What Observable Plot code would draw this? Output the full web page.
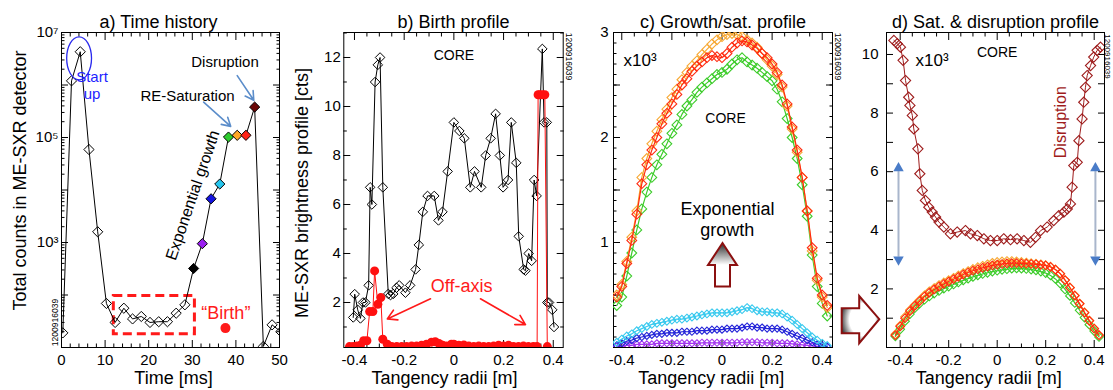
<!DOCTYPE html>
<html><head><meta charset="utf-8">
<script src="https://cdn.jsdelivr.net/npm/d3@7"></script>
<script src="https://cdn.jsdelivr.net/npm/@observablehq/plot@0.6"></script>
<style>
body{margin:0;background:#fff;}
#chart{position:relative;width:1113px;height:390px;overflow:hidden;background:#fff;}
#chart svg{position:absolute;top:0;}
</style></head><body><div id="chart"></div>
<script>
// ================= DATA =================
// Panel a: time history of total counts
const timeMs = [0.3,2.3,4.3,6.3,8.3,10.3,12.3,14.3,16.3,18.3,20.3,22.3,24.3,26.3,28.3,30.3,32.3,34.3,36.3,38.3,40.3,42.3,44.3,46.3,48.3,50.3];
const totalCounts = [19,1.2e6,4.3e6,5.9e4,1.6e3,69,30,56,35,39,30,31,31,45,65,320,950,6800,1.3e4,1.02e5,1.1e5,1.1e5,3.8e5,10.5,27,20];
const frameTag = [null,null,null,null,null,null,null,null,null,null,null,null,null,null,null,"black","purple","blue","cyan","green","orange","red","darkred",null,null,null];
const aTicksMajor = [1e1,1e2,1e3,1e4,1e5,1e6,1e7];
const aTickLabels = {1000:"10\u00b3",100000:"10\u2075",10000000:"10\u2077"};
const timeTicks = [0,10,20,30,40,50];
const birthBox = {t0:12.0, t1:30.6, c0:17.8, c1:95.5};
const birthDot = {t:37.6, c:23.4};
const startupEllipse = {t0:1.3, t1:7.0, c0:1.23e6, c1:8.1e6};
const aTexts = [
  {t:7.0, c:1.41e6, s:"Start", k:"blue"},
  {t:7.0, c:6.55e5, s:"up", k:"blue"},
  {t:37.5, c:2.72e6, s:"Disruption", k:"black"},
  {t:28.9, c:6.2e5, s:"RE-Saturation", k:"black"}
];
const aArrows = [
  {x1:40.3, y1:1.51e6, x2:44.1, y2:5.13e5},
  {x1:32.6, y1:4.73e5, x2:38.8, y2:1.63e5}
];
const expoLabel = {t:30.1, c:7.94e3, s:"Exponential growth"};
const birthLabel = {t:37.7, c:45.7, s:"\u201cBirth\u201d"};

// Panel b: birth profile
const bX = [-0.405,-0.399,-0.387,-0.376,-0.366,-0.356,-0.343,-0.337,-0.330,-0.317,-0.306,-0.297,-0.286,-0.264,-0.255,-0.244,-0.231,-0.220,-0.195,-0.176,-0.154,-0.141,-0.125,-0.106,-0.079,-0.062,-0.046,-0.025,0.000,0.022,0.042,0.066,0.083,0.110,0.128,0.148,0.168,0.185,0.198,0.218,0.231,0.251,0.261,0.281,0.288,0.301,0.313,0.323,0.333,0.356,0.363,0.374,0.376,0.383,0.396,0.403];
const bY = [1.39,2.34,1.70,1.35,2.00,2.00,2.70,6.70,6.00,11.00,11.70,12.00,6.70,2.35,2.30,2.35,2.60,2.70,2.40,2.70,3.35,4.35,5.70,6.35,6.35,5.35,5.70,7.35,9.35,9.00,8.70,6.70,7.35,6.70,8.00,8.70,9.70,8.00,6.70,7.00,9.35,7.70,4.70,3.35,3.30,4.00,3.70,7.00,6.35,12.35,9.35,9.35,2.00,2.00,1.70,1.00];
const rX = [-0.420,-0.405,-0.390,-0.376,-0.363,-0.350,-0.339,-0.326,-0.319,-0.306,-0.294,-0.286,-0.268,-0.250,-0.230,-0.210,-0.190,-0.170,-0.150,-0.130,-0.110,-0.090,-0.075,-0.060,-0.045,-0.030,-0.010,0.000,0.020,0.040,0.060,0.080,0.100,0.120,0.140,0.160,0.180,0.200,0.220,0.240,0.260,0.280,0.300,0.320,0.335,0.339,0.345,0.356,0.366,0.376];
const rY = [0.20,0.20,0.22,0.25,0.44,0.44,1.63,1.63,3.29,1.93,2.20,0.50,0.30,0.20,0.20,0.20,0.20,0.22,0.22,0.25,0.30,0.38,0.40,0.33,0.25,0.22,0.30,0.30,0.25,0.27,0.22,0.20,0.22,0.20,0.20,0.22,0.25,0.22,0.25,0.20,0.20,0.22,0.20,0.20,0.20,10.48,10.48,10.48,10.48,0.20];
const bArrows = [
  {x1:-0.094, y1:2.15, x2:-0.268, y2:1.33},
  {x1:0.107, y1:2.15, x2:0.288, y2:1.10}
];
const radiusTicks = [-0.4,-0.2,0,0.2,0.4];

// Panels c & d: profiles (units of 10^3 counts) on tangency radii channels
const R = [-0.42,-0.40,-0.38,-0.36,-0.34,-0.32,-0.30,-0.28,-0.26,-0.24,-0.22,-0.20,-0.18,-0.16,-0.14,-0.12,-0.10,-0.08,-0.06,-0.04,-0.02,0.00,0.02,0.04,0.06,0.08,0.10,0.12,0.14,0.16,0.18,0.20,0.22,0.24,0.26,0.28,0.30,0.32,0.34,0.36,0.38,0.40,0.42];
const cPurple = [0.01,0.01,0.02,0.02,0.03,0.03,0.03,0.03,0.04,0.04,0.04,0.04,0.04,0.04,0.04,0.04,0.04,0.045,0.045,0.045,0.045,0.045,0.045,0.045,0.045,0.05,0.05,0.05,0.05,0.045,0.045,0.045,0.04,0.04,0.04,0.035,0.03,0.025,0.02,0.015,0.01,0.01,0.005];
const cBlue = [0.02,0.04,0.06,0.07,0.09,0.10,0.11,0.12,0.13,0.13,0.14,0.14,0.14,0.15,0.15,0.15,0.16,0.16,0.16,0.17,0.17,0.17,0.18,0.18,0.18,0.19,0.20,0.20,0.19,0.19,0.18,0.18,0.18,0.17,0.15,0.13,0.11,0.09,0.07,0.05,0.03,0.02,0.01];
const cCyan = [0.05,0.08,0.11,0.13,0.16,0.18,0.20,0.22,0.23,0.24,0.25,0.26,0.27,0.27,0.28,0.29,0.30,0.31,0.32,0.33,0.33,0.33,0.33,0.34,0.35,0.36,0.38,0.37,0.35,0.34,0.34,0.33,0.33,0.32,0.29,0.26,0.22,0.18,0.14,0.10,0.07,0.04,0.02];
const cGreen = [0.40,0.48,0.68,0.90,1.12,1.32,1.48,1.62,1.74,1.84,1.94,2.04,2.12,2.22,2.30,2.36,2.43,2.48,2.52,2.56,2.60,2.62,2.65,2.70,2.74,2.76,2.72,2.69,2.66,2.62,2.58,2.54,2.46,2.34,2.18,2.00,1.80,1.55,1.25,0.88,0.58,0.42,0.30];
const cOrange = [0.50,0.60,0.82,1.05,1.30,1.62,1.80,1.94,2.06,2.17,2.27,2.38,2.46,2.55,2.62,2.68,2.73,2.79,2.84,2.89,2.93,2.96,2.98,2.99,2.98,2.96,2.93,2.90,2.86,2.80,2.74,2.68,2.60,2.48,2.30,2.08,1.86,1.62,1.30,0.92,0.64,0.48,0.38];
const cRed = [0.48,0.58,0.80,1.02,1.27,1.56,1.74,1.88,2.00,2.13,2.23,2.32,2.41,2.50,2.56,2.63,2.68,2.72,2.76,2.78,2.77,2.76,2.80,2.86,2.90,2.92,2.91,2.88,2.85,2.80,2.76,2.70,2.62,2.50,2.32,2.10,1.88,1.62,1.30,0.95,0.66,0.50,0.40];
const upArrow = {x:[0.004,0.062,0.034,0.034,-0.026,-0.026,-0.054], y:[0.99,0.78,0.78,0.575,0.575,0.78,0.78]};
const cTexts = [
  {x:0.014, y:2.18, s:"CORE", size:14},
  {x:0.022, y:1.32, s:"Exponential", size:18},
  {x:0.021, y:1.12, s:"growth", size:18}
];

const dOrange = [0.45,0.75,1.05,1.28,1.45,1.62,1.78,1.92,2.03,2.13,2.22,2.30,2.38,2.46,2.54,2.61,2.68,2.74,2.79,2.84,2.89,2.92,2.94,2.95,2.95,2.94,2.92,2.90,2.88,2.86,2.84,2.81,2.76,2.66,2.52,2.30,2.05,1.78,1.50,1.20,0.92,0.65,0.42];
const dRed = [0.42,0.72,1.00,1.24,1.42,1.58,1.74,1.87,1.98,2.08,2.17,2.25,2.33,2.41,2.49,2.56,2.62,2.67,2.72,2.76,2.80,2.83,2.85,2.87,2.88,2.88,2.87,2.86,2.85,2.84,2.82,2.80,2.75,2.66,2.52,2.30,2.04,1.77,1.49,1.19,0.91,0.64,0.42];
const dGreen = [0.38,0.62,0.90,1.14,1.34,1.50,1.63,1.74,1.84,1.93,2.01,2.08,2.15,2.22,2.29,2.35,2.41,2.46,2.51,2.55,2.59,2.62,2.65,2.67,2.69,2.70,2.69,2.68,2.66,2.63,2.59,2.54,2.46,2.34,2.18,1.98,1.76,1.52,1.27,1.02,0.78,0.56,0.36];
const dX = [-0.426,-0.412,-0.399,-0.388,-0.378,-0.365,-0.360,-0.350,-0.344,-0.327,-0.319,-0.309,-0.296,-0.282,-0.268,-0.254,-0.240,-0.220,-0.193,-0.165,-0.131,-0.110,-0.082,-0.055,-0.028,0.000,0.027,0.055,0.082,0.110,0.137,0.158,0.179,0.206,0.233,0.254,0.275,0.289,0.302,0.309,0.316,0.330,0.337,0.350,0.357,0.364,0.371,0.385,0.398,0.412,0.426];
const dY = [10.48,10.37,10.25,9.80,9.11,8.54,8.26,7.92,7.46,6.78,5.93,5.36,5.02,4.79,4.62,4.45,4.28,4.11,3.88,3.94,3.99,3.88,3.82,3.71,3.65,3.65,3.71,3.68,3.71,3.65,3.59,3.76,3.99,4.11,4.33,4.50,4.62,4.73,4.90,5.47,6.21,6.32,7.06,7.80,8.37,8.88,9.28,9.62,9.91,10.14,10.25];
const dArrowX = [-0.407, 0.405];
const dArrowTop = 6.32, dArrowBottom = 2.80;
const rightArrow = {x:[-0.639,-0.567,-0.567,-0.484,-0.567,-0.567,-0.639], y:[1.32,1.32,1.74,0.95,0.13,0.47,0.47]};
const shotId = "1200916039";

// ================= STYLE =================
const FONT = '"Liberation Sans", Arial, Helvetica, sans-serif';
const palette = {black:"#000000", purple:"#9b1ff0", blue:"#1414e0", cyan:"#26c6ee", green:"#2ecc2e", orange:"#ffa726", red:"#ff2418", darkred:"#6b0808"};
const profColor = {purple:"#a335f0", blue:"#2424d8", cyan:"#37c9ee", green:"#3ccc2a", orange:"#f7a833", red:"#ff2a10", darkred:"#9e1c1c"};
const blank = () => "";
const fmtR = d => d === 0 ? "0" : (d < 0 ? "-" : "") + Math.abs(d).toFixed(1);
const minorR = [-0.35,-0.3,-0.25,-0.15,-0.1,-0.05,0.05,0.1,0.15,0.25,0.3,0.35];

function boxAxes({xMajor, xMinor, yMajor, yMinor, xFmt, yFmt, xGap = 7, yGap = 3, M = 7, m = 3.5}) {
  return [
    Plot.axisX({ticks: xMajor, anchor: "bottom", tickSize: -M, tickPadding: M + xGap, tickFormat: xFmt, label: null, fontSize: 15}),
    Plot.axisX({ticks: xMajor, anchor: "top", tickSize: -M, tickFormat: blank, label: null}),
    Plot.axisX({ticks: xMinor, anchor: "bottom", tickSize: -m, tickFormat: blank, label: null}),
    Plot.axisX({ticks: xMinor, anchor: "top", tickSize: -m, tickFormat: blank, label: null}),
    Plot.axisY({ticks: yMajor, anchor: "left", tickSize: -M, tickPadding: M + yGap, tickFormat: yFmt, label: null, fontSize: 15}),
    Plot.axisY({ticks: yMajor, anchor: "right", tickSize: -M, tickFormat: blank, label: null}),
    Plot.axisY({ticks: yMinor, anchor: "left", tickSize: -m, tickFormat: blank, label: null}),
    Plot.axisY({ticks: yMinor, anchor: "right", tickSize: -m, tickFormat: blank, label: null}),
    Plot.frame({stroke: "black", strokeWidth: 1})
  ];
}
function fixed(s, o) { return Plot.text([s], {text: d => d, fontFamily: FONT, textAnchor: "middle", lineAnchor: "middle", ...o}); }

function mk({left, width, ml, mr, x, y, color, marks}) {
  const svg = Plot.plot({
    width, height: 390, marginTop: 32, marginBottom: 43, marginLeft: ml, marginRight: mr,
    x, y, color,
    style: {fontFamily: FONT, fontSize: "15px", background: "transparent", overflow: "visible", color: "black"},
    marks
  });
  svg.style.position = "absolute";
  svg.style.left = left + "px";
  svg.style.top = "0px";
  document.getElementById("chart").appendChild(svg);
  return svg;
}
function addPoly(svg, shape, id, grad) {
  const X = svg.scale("x"), Y = svg.scale("y");
  const s = d3.select(svg);
  const defs = s.append("defs");
  grad(defs.append(grad.type).attr("id", id));
  const pts = shape.x.map((v, i) => [X.apply(v).toFixed(1), Y.apply(shape.y[i]).toFixed(1)]);
  s.append("path").attr("d", "M" + pts.join("L") + "Z")
    .attr("fill", `url(#${id})`).attr("stroke", "#8b1010").attr("stroke-width", 2).attr("stroke-linejoin", "miter");
}

// ================= PANEL A =================
const idxA = d3.range(timeMs.length);
const minorLog = [];
for (let e = 1; e < 7; e++) for (let k = 2; k <= 9; k++) minorLog.push(k * 10 ** e);
const svgA = mk({
  left: 0, width: 290, ml: 61, mr: 11,
  x: {domain: [0, 50]}, y: {type: "log", domain: [10, 1e7]}, color: {type: "identity"},
  marks: [
    ...boxAxes({xMajor: timeTicks, xMinor: [2,4,6,8,12,14,16,18,22,24,26,28,32,34,36,38,42,44,46,48], yMajor: aTicksMajor, yMinor: minorLog,
      xFmt: d => String(d), yFmt: d => aTickLabels[d] ?? "", yGap: 3}),
    Plot.rect([birthBox], {x1: "t0", x2: "t1", y1: "c0", y2: "c1", fill: "none", stroke: "#ff1a1a", strokeWidth: 3, strokeDasharray: "9,5"}),
    Plot.line(idxA, {x: i => timeMs[i], y: i => totalCounts[i], stroke: "black", strokeWidth: 1, clip: true}),
    Plot.dot(idxA, {x: i => timeMs[i], y: i => totalCounts[i], symbol: "diamond2", r: 4.6, stroke: "black", strokeWidth: 1,
      fill: i => frameTag[i] ? palette[frameTag[i]] : "none", clip: true}),
    Plot.dot([birthDot], {x: "t", y: "c", r: 5, fill: "#ff1a1a"}),
    Plot.text(aTexts, {x: "t", y: "c", text: "s", textAnchor: d => d.k === "blue" ? "start" : "middle",
      fill: d => d.k === "blue" ? "#1f1fff" : "black", fontSize: 15, fontFamily: FONT}),
    Plot.arrow(aArrows, {x1: "x1", y1: "y1", x2: "x2", y2: "y2", stroke: "#5b8dca", strokeWidth: 1.6, headLength: 9}),
    Plot.text([expoLabel], {x: "t", y: "c", text: "s", rotate: -71, fontSize: 16, fontFamily: FONT}),
    Plot.text([birthLabel], {x: "t", y: "c", text: "s", fill: "#ff1a1a", fontSize: 18, fontFamily: FONT}),
    fixed("a) Time history", {frameAnchor: "top", dx: -12, dy: -10.5, fontSize: 18}),
    fixed("Time [ms]", {frameAnchor: "bottom", dx: 3, dy: 31, fontSize: 18}),
    fixed("Total counts in ME-SXR detector", {frameAnchor: "left", rotate: -90, dx: -41, dy: -9.5, fontSize: 18}),
    fixed(shotId, {frameAnchor: "bottom-left", rotate: -90, dx: -6, dy: -25, fontSize: 8.5})
  ]
});
{
  const X = svgA.scale("x"), Y = svgA.scale("y");
  const e = startupEllipse;
  d3.select(svgA).append("ellipse")
    .attr("cx", (X.apply(e.t0) + X.apply(e.t1)) / 2).attr("cy", (Y.apply(e.c0) + Y.apply(e.c1)) / 2)
    .attr("rx", (X.apply(e.t1) - X.apply(e.t0)) / 2).attr("ry", (Y.apply(e.c0) - Y.apply(e.c1)) / 2)
    .attr("fill", "none").attr("stroke", "#2a2aee").attr("stroke-width", 1.3);
}

// ================= PANEL B =================
const idxB = d3.range(bX.length), idxR = d3.range(rX.length);
mk({
  left: 290, width: 285, ml: 53.3, mr: 12.3,
  x: {domain: [-0.443, 0.440]}, y: {domain: [0.163, 13.02]},
  marks: [
    ...boxAxes({xMajor: radiusTicks, xMinor: minorR,
      yMajor: [2, 4, 6, 8, 10, 12], yMinor: [1, 3, 5, 7, 9, 11, 13], xFmt: fmtR, yFmt: d => String(d), yGap: 3}),
    Plot.line(idxB, {x: i => bX[i], y: i => bY[i], stroke: "black", strokeWidth: 1, clip: true}),
    Plot.dot(idxB, {x: i => bX[i], y: i => bY[i], symbol: "diamond2", r: 4.3, stroke: "black", strokeWidth: 1, fill: "none", clip: true}),
    Plot.line(idxR, {x: i => rX[i], y: i => rY[i], stroke: "#ff1010", strokeWidth: 1, clip: true}),
    Plot.dot(idxR, {x: i => rX[i], y: i => rY[i], r: 4.5, fill: "#ff1010", clip: true}),
    Plot.text([{x: 0, y: 12.08, s: "CORE"}], {x: "x", y: "y", text: "s", fontSize: 14, fontFamily: FONT}),
    Plot.text([{x: 0.031, y: 2.65, s: "Off-axis"}], {x: "x", y: "y", text: "s", fontSize: 18, fill: "#ff1a1a", fontFamily: FONT}),
    Plot.arrow(bArrows, {x1: "x1", y1: "y1", x2: "x2", y2: "y2", stroke: "#ff1a1a", strokeWidth: 1.6, headLength: 10}),
    fixed("b) Birth profile", {frameAnchor: "top", dx: 0, dy: -10.5, fontSize: 18}),
    fixed("Tangency radii [m]", {frameAnchor: "bottom", dx: -9, dy: 31, fontSize: 18}),
    fixed("ME-SXR brightness profile [cts]", {frameAnchor: "left", rotate: -90, dx: -41.6, dy: 3, fontSize: 18}),
    fixed(shotId, {frameAnchor: "top-right", rotate: 90, dx: 6, dy: 24, fontSize: 8.5})
  ]
});

// ================= PANEL C =================
const cSeries = [["purple", cPurple, 3.2], ["blue", cBlue, 3.2], ["cyan", cCyan, 3.5], ["green", cGreen, 4.4], ["orange", cOrange, 4.4], ["red", cRed, 4.4]];
const svgC = mk({
  left: 575, width: 265, ml: 38, mr: 8,
  x: {domain: [-0.433, 0.441]}, y: {domain: [0, 3]},
  marks: [
    ...boxAxes({xMajor: radiusTicks, xMinor: minorR,
      yMajor: [0.5, 1, 1.5, 2, 2.5, 3], yMinor: d3.range(1, 30).map(k => k / 10), xFmt: fmtR,
      yFmt: d => Number.isInteger(d) ? String(d) : "", yGap: 5}),
    ...cSeries.flatMap(([k, v, r]) => [
      Plot.line(R, {x: d => d, y: (d, i) => v[i], stroke: profColor[k], strokeWidth: 1.2, clip: true}),
      Plot.dot(R, {x: d => d, y: (d, i) => v[i], symbol: "diamond2", r, stroke: profColor[k], strokeWidth: 1.1, fill: "none", clip: true})
    ]),
    Plot.text(cTexts, {x: "x", y: "y", text: "s", fontSize: d => d.size, fontFamily: FONT}),
    Plot.text([{x: -0.393, y: 2.73, s: "x10\u00b3"}], {x: "x", y: "y", text: "s", textAnchor: "start", fontSize: 17, fontFamily: FONT}),
    fixed("c) Growth/sat. profile", {frameAnchor: "top", dx: 0, dy: -10.5, fontSize: 18}),
    fixed("Tangency radii [m]", {frameAnchor: "bottom", dx: -11.7, dy: 31, fontSize: 18}),
    fixed(shotId, {frameAnchor: "top-right", rotate: 90, dx: 5, dy: 24, fontSize: 8.5})
  ]
});
addPoly(svgC, upArrow, "gradUp", Object.assign(g => {
  g.attr("x1", 0).attr("y1", 0).attr("x2", 0).attr("y2", 1);
  g.append("stop").attr("offset", "0").attr("stop-color", "#2a2a2a");
  g.append("stop").attr("offset", "0.5").attr("stop-color", "#ffffff");
  g.append("stop").attr("offset", "1").attr("stop-color", "#ffffff");
}, {type: "linearGradient"}));

// ================= PANEL D =================
const dSeries = [["green", dGreen], ["orange", dOrange], ["red", dRed]];
const svgD = mk({
  left: 840, width: 273, ml: 46, mr: 9,
  x: {domain: [-0.4565, 0.4425]}, y: {domain: [0, 10.75]},
  marks: [
    ...boxAxes({xMajor: radiusTicks, xMinor: minorR,
      yMajor: [1, 2, 3, 4, 5, 6, 7, 8, 9, 10], yMinor: [], xFmt: fmtR,
      yFmt: d => d % 2 === 0 ? String(d) : "", yGap: 8}),
    ...dSeries.flatMap(([k, v]) => [
      Plot.line(R, {x: d => d, y: (d, i) => v[i], stroke: profColor[k], strokeWidth: 1.2, clip: true}),
      Plot.dot(R, {x: d => d, y: (d, i) => v[i], symbol: "diamond2", r: 3.9, stroke: profColor[k], strokeWidth: 1.1, fill: "none", clip: true})
    ]),
    Plot.line(dX, {x: d => d, y: (d, i) => dY[i], stroke: profColor.darkred, strokeWidth: 1, clip: true}),
    Plot.dot(dX, {x: d => d, y: (d, i) => dY[i], symbol: "diamond2", r: 4.6, stroke: profColor.darkred, strokeWidth: 1.1, fill: "none", clip: true}),
    Plot.link(dArrowX, {x1: d => d, x2: d => d, y1: dArrowBottom + 0.3, y2: dArrowTop - 0.3, stroke: "#a9b6cc", strokeWidth: 2}),
    Plot.dot(dArrowX, {x: d => d, y: dArrowTop - 0.2, symbol: "triangle2", r: 5, fill: "#4a7cc8"}),
    Plot.dot(dArrowX, {x: d => d, y: dArrowBottom + 0.2, symbol: "triangle2", r: 5, fill: "#4a7cc8", rotate: 180}),
    Plot.text([{x: 0, y: 10.08, s: "CORE"}], {x: "x", y: "y", text: "s", fontSize: 14, fontFamily: FONT}),
    Plot.text([{x: -0.337, y: 9.8, s: "x10\u00b3"}], {x: "x", y: "y", text: "s", textAnchor: "start", fontSize: 17, fontFamily: FONT}),
    Plot.text([{x: 0.261, y: 7.69, s: "Disruption"}], {x: "x", y: "y", text: "s", rotate: -90, fontSize: 16, fill: "#a01c1c", fontFamily: FONT}),
    fixed("d) Sat. & disruption profile", {frameAnchor: "top", dx: 0, dy: -10.5, fontSize: 18}),
    fixed("Tangency radii [m]", {frameAnchor: "bottom", dx: -6.7, dy: 31, fontSize: 18}),
    fixed(shotId, {frameAnchor: "top-right", rotate: 90, dx: 3.5, dy: 24, fontSize: 8})
  ]
});
addPoly(svgD, rightArrow, "gradRight", Object.assign(g => {
  g.attr("cx", 0.55).attr("cy", 0.5).attr("r", 0.62);
  g.append("stop").attr("offset", "0").attr("stop-color", "#ffffff");
  g.append("stop").attr("offset", "0.55").attr("stop-color", "#ffffff");
  g.append("stop").attr("offset", "1").attr("stop-color", "#1a1a1a");
}, {type: "radialGradient"}));
</script></body></html>
